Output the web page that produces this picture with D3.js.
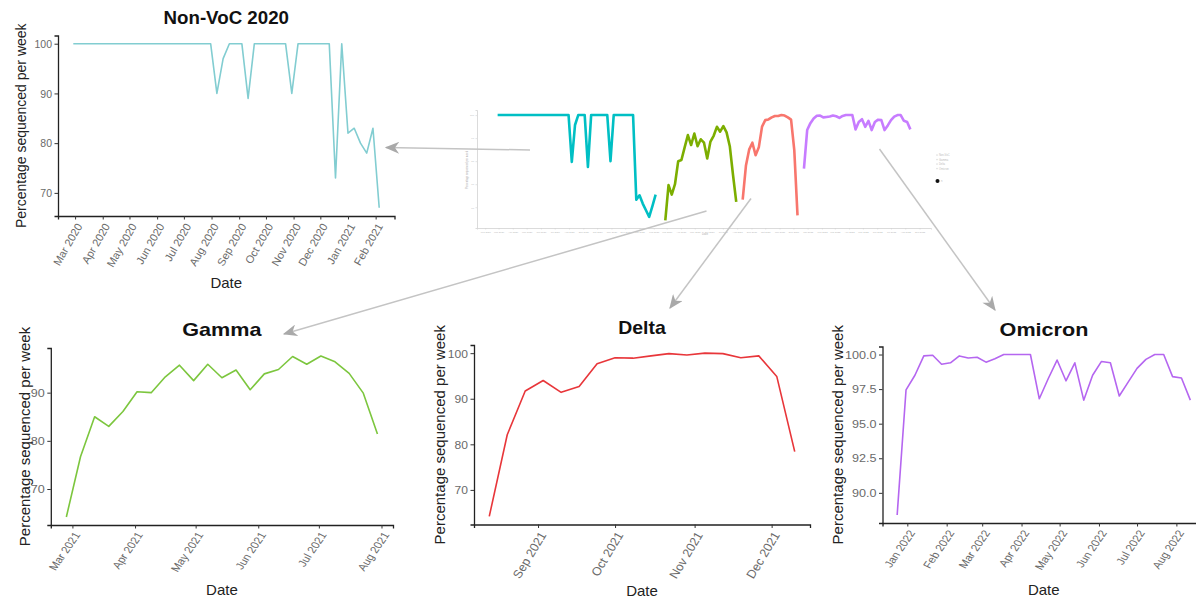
<!DOCTYPE html>
<html>
<head>
<meta charset="utf-8">
<script src="https://cdn.jsdelivr.net/npm/d3@7"></script>
<style>
    body { margin: 0; background: #fff; }
    svg text { font-family: "Liberation Sans", Arial, Helvetica, sans-serif; }
</style>
</head>
<body>
<div id="chart"></div>
<script>
// ---- data (weekly % sequenced) ----
var nonVocStart = "2020-02-28";
var nonVocValues = [100, 100, 100, 100, 100, 100, 100, 100, 100, 100, 100, 100, 100, 100, 100, 100, 100, 100, 100, 100,
    100, 100, 100, 90, 97, 100, 100, 100, 89, 100, 100, 100, 100, 100, 100, 90, 100, 100, 100, 100,
    100, 100, 73, 100, 82, 83, 80, 78, 83, 67];

var gammaStart = "2021-02-26";
var gammaValues = [64.2, 76.7, 85.0, 83.0, 86.1, 90.2, 90.0, 93.3, 95.7, 92.5, 95.9, 93.1, 94.7, 90.6, 93.9, 94.8,
    97.5, 95.9, 97.6, 96.4, 94.0, 89.9, 81.4];

var deltaStart = "2021-08-13";
var deltaValues = [64.2, 82.1, 91.7, 94.0, 91.4, 92.7, 97.7, 99.0, 98.9, 99.4, 99.9, 99.6, 100, 99.9, 99.0, 99.4, 94.9, 78.4];

var omicronStart = "2021-12-24";
var omicronValues = [88.4, 97.45, 98.5, 99.9, 99.95, 99.3, 99.4, 99.9, 99.75, 99.8, 99.45, 99.7, 100, 100, 100, 100,
    96.8, 98.25, 99.6, 98.1, 99.4, 96.7, 98.5, 99.5, 99.4, 97.0, 98.0, 99.0, 99.65, 100, 100, 98.4, 98.3, 96.7];

// small overview plot in the middle (read separately, it differs a bit)
var ovNonVocValues = [100, 100, 100, 100, 100, 100, 100, 100, 100, 100, 100, 100, 100, 100, 100, 100, 100, 100, 100, 100,
    100, 100, 100, 79.7, 95.7, 100, 100, 100, 77.5, 100, 100, 100, 100, 100, 100, 80, 100, 100, 100, 100,
    100, 100, 100, 63.3, 65.2, 61.6, 58.7, 55.8, 60.5, 65.5];
var ovGammaValues = [54.3, 69.6, 65.5, 70, 80, 80.5, 86, 91.3, 87, 92, 86.5, 89.5, 88, 81.2, 88.5, 91, 94.9, 92.8, 95.2, 92.5, 86.5, 74, 62.3];
var ovDeltaValues = [63.3, 78, 85, 88, 82.6, 86, 95, 97.8, 98.1, 99, 99.6, 99.6, 100, 99.8, 99, 98, 84.8, 56.5];
var ovOmicronValues = [76.8, 93.5, 96.5, 98.5, 99.7, 99.8, 99, 99.2, 99.4, 99.8, 99.5, 98.8, 99.6, 100, 100, 100, 93.8, 97, 98.2,
    94.9, 97.5, 93.5, 97, 98, 97.8, 93.5, 95.5, 97.8, 99.3, 100, 100, 97.5, 97, 93.8];

var variantNames = ["Non-VoC", "Gamma", "Delta", "Omicron"];
var ovColors = ["#00BFC4", "#7CAE00", "#F8766D", "#C77CFF"];

// tick labels
var yTicksNonVoc = [70, 80, 90, 100];
var yTicksGamma = [70, 80, 90];
var yTicksDelta = [70, 80, 90, 100];
var yTicksOmicron = [90, 92.5, 95, 97.5, 100];
var yTicksOverview = [60, 70, 80, 90, 100];

var parseDate = d3.timeParse("%Y-%m-%d");

function toRows(start, values) {
    var d0 = parseDate(start);
    return values.map(function(v, i) {
        return { date: d3.timeDay.offset(d0, 7 * i), value: v };
    });
}

// ggplot style 5% expansion
function padNum(ext) {
    var s = ext[1] - ext[0];
    return [ext[0] - s * 0.05, ext[1] + s * 0.05];
}
function padDate(ext) {
    var s = ext[1] - ext[0];
    return [new Date(+ext[0] - s * 0.05), new Date(+ext[1] + s * 0.05)];
}

var svgWidth = 1196;
var svgHeight = 598;

var svg = d3.select("#chart")
    .append("svg")
    .attr("width", svgWidth)
    .attr("height", svgHeight);

// ---- one big panel ----
function drawPanel(cfg) {
    var data = toRows(cfg.start, cfg.values);
    var g = svg.append("g");

    var xScale = d3.scaleTime()
        .domain(padDate(d3.extent(data, d => d.date)))
        .range([cfg.x0, cfg.x1]);
    var yScale = d3.scaleLinear()
        .domain(padNum(d3.extent(data, d => d.value)))
        .range([cfg.y1, cfg.y0]);

    // y axis
    var leftAxis = d3.axisLeft(yScale)
        .tickValues(cfg.yTicks)
        .tickSize(3.5)
        .tickFormat(cfg.yFormat);
    var ya = g.append("g")
        .attr("transform", `translate(${cfg.x0}, 0)`)
        .call(leftAxis);
    ya.select(".domain").attr("stroke", "#222").attr("stroke-width", 1.3);
    ya.selectAll(".tick line").attr("stroke", "#333").attr("stroke-width", 1);
    ya.selectAll(".tick text")
        .attr("x", null)
        .attr("dy", "0.35em")
        .attr("fill", "#6a6a6a")
        .attr("font-size", cfg.tickSize)
        .attr("transform", `translate(-6, 0) scale(${cfg.sx}, 1)`);

    // x axis
    var bottomAxis = d3.axisBottom(xScale)
        .ticks(d3.timeMonth.every(1))
        .tickSize(3.5)
        .tickFormat(d3.timeFormat("%b %Y"));
    var xa = g.append("g")
        .attr("transform", `translate(0, ${cfg.y1})`)
        .call(bottomAxis);
    xa.select(".domain").attr("stroke", "#222").attr("stroke-width", 1.3);
    xa.selectAll(".tick line").attr("stroke", "#333").attr("stroke-width", 1);
    xa.selectAll(".tick text")
        .attr("y", null)
        .attr("dy", "0.75em")
        .attr("text-anchor", "end")
        .attr("fill", "#6a6a6a")
        .attr("font-size", cfg.xTickSize)
        .attr("transform", `translate(0, 6) scale(${cfg.sx}, 1) rotate(-60)`);

    // line
    var line = d3.line()
        .x(d => xScale(d.date))
        .y(d => yScale(d.value));
    g.append("path")
        .datum(data)
        .attr("d", line)
        .attr("fill", "none")
        .attr("stroke", cfg.color)
        .attr("stroke-width", 1.6)
        .attr("stroke-linejoin", "round");

    // titles
    var cx = (cfg.x0 + cfg.x1) / 2;
    g.append("text")
        .attr("transform", `translate(${cfg.titleX || cx}, ${cfg.titleY}) scale(${cfg.titleSx}, 1)`)
        .attr("text-anchor", "middle")
        .attr("font-weight", "bold")
        .attr("font-size", 18)
        .attr("fill", "#111")
        .text(cfg.title);

    g.append("text")
        .attr("transform", `translate(${cx}, ${cfg.dateY})`)
        .attr("text-anchor", "middle")
        .attr("font-size", 15)
        .attr("fill", "#222")
        .text("Date");

    g.append("text")
        .attr("transform", `translate(${cfg.yTitleX}, ${(cfg.y0 + cfg.y1) / 2}) rotate(-90)`)
        .attr("text-anchor", "middle")
        .attr("dy", "0.35em")
        .attr("font-size", cfg.yTitleSize)
        .attr("fill", "#222")
        .text("Percentage sequenced per week");
}

drawPanel({
    title: "Non-VoC 2020", start: nonVocStart, values: nonVocValues, color: "#82CDD1",
    x0: 58, x1: 394.5, y0: 35.5, y1: 216, yTicks: yTicksNonVoc, yFormat: d3.format("d"),
    tickSize: 10.5, xTickSize: 11, sx: 1, titleSx: 1.04, titleY: 24, dateY: 288,
    yTitleX: 21, yTitleSize: 14
});
drawPanel({
    title: "Gamma", start: gammaStart, values: gammaValues, color: "#7CC63E",
    x0: 50.8, x1: 393, y0: 348, y1: 525, yTicks: yTicksGamma, yFormat: d3.format("d"),
    tickSize: 10.5, xTickSize: 10, sx: 1.2, titleSx: 1.2, titleY: 336, dateY: 595,
    yTitleX: 25, yTitleSize: 15
});
drawPanel({
    title: "Delta", start: deltaStart, values: deltaValues, color: "#E8363A",
    x0: 474, x1: 810, y0: 345, y1: 524.5, yTicks: yTicksDelta, yFormat: d3.format("d"),
    tickSize: 11.5, xTickSize: 12, sx: 1.05, titleSx: 1.08, titleY: 334, dateY: 596,
    yTitleX: 440, yTitleSize: 15
});
drawPanel({
    title: "Omicron", start: omicronStart, values: omicronValues, color: "#B566F0",
    x0: 882.5, x1: 1205, y0: 346.5, y1: 523, yTicks: yTicksOmicron, yFormat: d3.format(".1f"),
    tickSize: 10.5, xTickSize: 10, sx: 1.2, titleSx: 1.2, titleX: 1044, titleY: 336, dateY: 595,
    yTitleX: 838, yTitleSize: 15
});

// ---- overview (small thumbnail of all variants) ----
var ovSeries = [
    toRows(nonVocStart, ovNonVocValues),
    toRows(gammaStart, ovGammaValues),
    toRows(deltaStart, ovDeltaValues),
    toRows(omicronStart, ovOmicronValues)
];
var allRows = d3.merge(ovSeries);

var ovX = d3.scaleTime()
    .domain(padDate(d3.extent(allRows, d => d.date)))
    .range([477, 931]);
var ovY = d3.scaleLinear()
    .domain([51, 102.2])
    .range([228, 110]);

var ov = svg.append("g");

var ovLeft = ov.append("g")
    .attr("transform", "translate(477, 0)")
    .call(d3.axisLeft(ovY).tickValues(yTicksOverview).tickSize(1.5).tickPadding(1.5));
var ovBottom = ov.append("g")
    .attr("transform", "translate(0, 228)")
    .call(d3.axisBottom(ovX).ticks(d3.timeMonth.every(1)).tickSize(1.5).tickPadding(1.5)
        .tickFormat(d3.timeFormat("%b %Y")));
[ovLeft, ovBottom].forEach(function(a) {
    a.select(".domain").attr("stroke", "#d2d2d2").attr("stroke-width", 0.8);
    a.selectAll(".tick line").attr("stroke", "#d2d2d2").attr("stroke-width", 0.6);
    a.selectAll(".tick text").attr("font-size", 2.4).attr("fill", "#b8b8b8");
});

ov.append("text")
    .attr("transform", "translate(468, 170) rotate(-90)")
    .attr("text-anchor", "middle")
    .attr("font-size", 2.6)
    .attr("fill", "#aaa")
    .text("Percentage sequenced per week");
ov.append("text")
    .attr("x", 705)
    .attr("y", 235)
    .attr("text-anchor", "middle")
    .attr("font-size", 2.8)
    .attr("fill", "#aaa")
    .text("Date");

var ovLine = d3.line()
    .x(d => ovX(d.date))
    .y(d => ovY(d.value));

ov.selectAll(".ovline")
    .data(ovSeries)
    .enter()
    .append("path")
    .attr("class", "ovline")
    .attr("d", ovLine)
    .attr("fill", "none")
    .attr("stroke", (d, i) => ovColors[i])
    .attr("stroke-width", 2.6)
    .attr("stroke-linejoin", "round");

// tiny legend
var leg = ov.append("g").attr("transform", "translate(937, 156)");
leg.selectAll("text")
    .data(variantNames)
    .enter()
    .append("text")
    .attr("x", 2)
    .attr("y", (d, i) => i * 4.5)
    .attr("font-size", 2.6)
    .attr("fill", "#bbb")
    .text(d => d);
leg.selectAll("circle")
    .data(variantNames)
    .enter()
    .append("circle")
    .attr("cx", 0)
    .attr("cy", (d, i) => i * 4.5 - 0.9)
    .attr("r", 0.8)
    .attr("fill", "#ddd");
leg.append("circle").attr("cx", 0.5).attr("cy", 25).attr("r", 2).attr("fill", "#111");
leg.append("text").attr("x", 4).attr("y", 26).attr("font-size", 2.6).attr("fill", "#bbb").text("n");

// ---- arrows from thumbnail to the panels ----
var arrows = [
    { from: [530, 150], to: [386, 147.5] },
    { from: [706.5, 211], to: [284, 334] },
    { from: [751, 198.5], to: [670, 308] },
    { from: [879.5, 149], to: [995, 310] }
];

svg.append("defs")
    .append("marker")
    .attr("id", "head")
    .attr("viewBox", "0 0 12 10")
    .attr("refX", 11)
    .attr("refY", 5)
    .attr("markerWidth", 15)
    .attr("markerHeight", 12)
    .attr("markerUnits", "userSpaceOnUse")
    .attr("orient", "auto")
    .append("path")
    .attr("d", "M0,0 L12,5 L0,10 L3.5,5 Z")
    .attr("fill", "#a9a9a9");

svg.append("g")
    .selectAll("line")
    .data(arrows)
    .enter()
    .append("line")
    .attr("x1", d => d.from[0])
    .attr("y1", d => d.from[1])
    .attr("x2", d => d.to[0])
    .attr("y2", d => d.to[1])
    .attr("stroke", "#c4c4c4")
    .attr("stroke-width", 1.5)
    .attr("marker-end", "url(#head)");
</script>
</body>
</html>
